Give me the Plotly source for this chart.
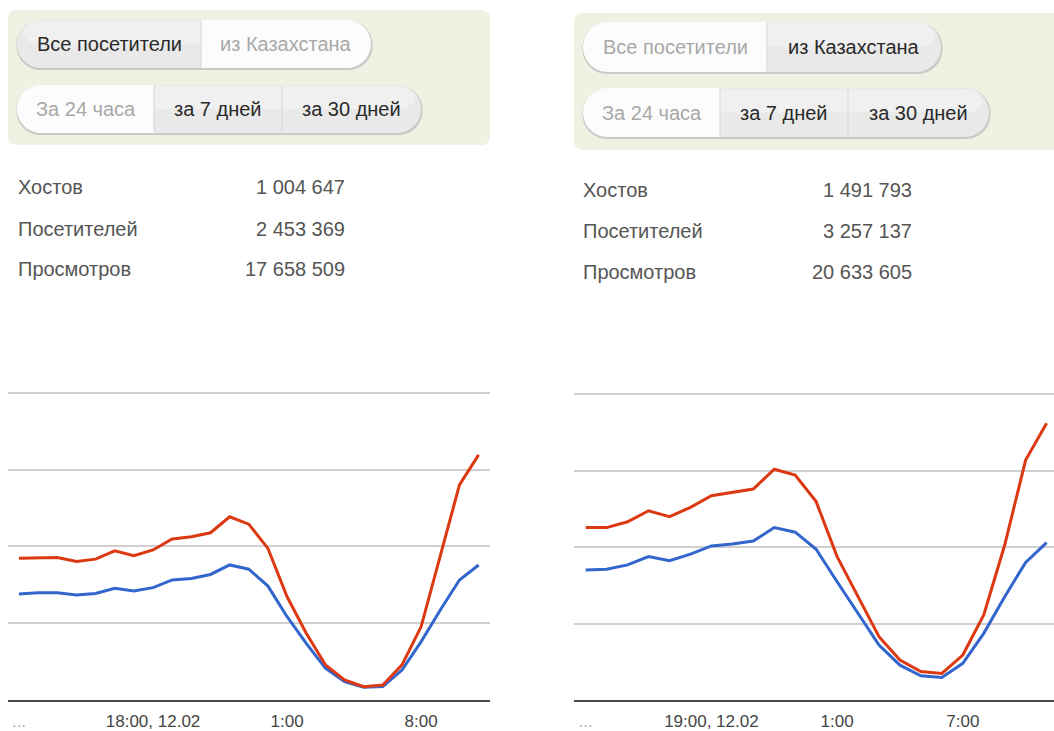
import plotly.graph_objects as go

W, H = 1054, 731

# ---------------- data ----------------
# left widget (hourly, 11:00 12.02 -> 11:00 13.02)
left_red = [46.1, 46.3, 46.3, 45.0, 45.8, 48.5, 46.9, 48.8, 52.4, 53.1, 54.4, 59.6, 57.2,
            49.3, 33.5, 21.6, 11.3, 6.4, 4.2, 4.7, 11.3, 23.8, 47.1, 70.0, 79.8]
left_blue = [34.4, 34.8, 34.8, 34.1, 34.6, 36.3, 35.4, 36.5, 39.0, 39.5, 40.8, 43.9, 42.5,
             37.0, 27.0, 18.3, 10.2, 5.8, 4.0, 4.2, 9.6, 18.9, 29.2, 39.0, 43.9]
left_tick_pos = [0, 7, 14, 21]
left_tick_text = ["…", "18:00, 12.02", "1:00", "8:00"]

# right widget (hourly, 13:00 12.02 -> 11:00 13.02)
right_red = [56.4, 56.4, 58.3, 61.9, 60.0, 63.0, 66.8, 67.9, 69.0, 75.5, 73.6, 64.9,
             46.9, 33.8, 20.7, 13.1, 9.3, 8.7, 14.7, 27.8, 50.7, 78.5, 90.5]
right_blue = [42.5, 42.8, 44.2, 46.9, 45.6, 47.7, 50.4, 51.0, 52.0, 56.4, 54.9, 49.3,
              38.7, 28.4, 18.0, 11.4, 7.9, 7.4, 12.0, 21.8, 33.8, 45.0, 51.5]
right_tick_pos = [0, 6, 12, 18]
right_tick_text = ["…", "19:00, 12.02", "1:00", "7:00"]

grid_vals = [0, 25, 50, 75, 100]

stat_labels = ["Хостов", "Посетителей", "Просмотров"]
left_stats = ["1 004 647", "2 453 369", "17 658 509"]
right_stats = ["1 491 793", "3 257 137", "20 633 605"]

group1_labels = ["Все посетители", "из Казахстана"]
group2_labels = ["За 24 часа", "за 7 дней", "за 30 дней"]
left_active1 = [True, False]    # dark text segments
right_active1 = [False, True]
active2 = [False, True, True]

RED = "#dc3912"
BLUE = "#3366cc"
FONT = "Liberation Sans, Arial, sans-serif"


def X(px):
    return px / W


def Y(py):
    return 1 - py / H


def rrect_path(x0, y0, x1, y1, rl, rr):
    k = 0.5523
    p = []
    p.append(f"M {X(x0 + rl)},{Y(y0)}")
    p.append(f"L {X(x1 - rr)},{Y(y0)}")
    if rr > 0:
        p.append(f"C {X(x1 - rr + k * rr)},{Y(y0)} {X(x1)},{Y(y0 + rr - k * rr)} {X(x1)},{Y(y0 + rr)}")
    p.append(f"L {X(x1)},{Y(y1 - rr)}")
    if rr > 0:
        p.append(f"C {X(x1)},{Y(y1 - rr + k * rr)} {X(x1 - rr + k * rr)},{Y(y1)} {X(x1 - rr)},{Y(y1)}")
    p.append(f"L {X(x0 + rl)},{Y(y1)}")
    if rl > 0:
        p.append(f"C {X(x0 + rl - k * rl)},{Y(y1)} {X(x0)},{Y(y1 - rl + k * rl)} {X(x0)},{Y(y1 - rl)}")
    p.append(f"L {X(x0)},{Y(y0 + rl)}")
    if rl > 0:
        p.append(f"C {X(x0)},{Y(y0 + rl - k * rl)} {X(x0 + rl - k * rl)},{Y(y0)} {X(x0 + rl)},{Y(y0)}")
    p.append("Z")
    return " ".join(p)


shapes = []
annotations = []


def panel(x0, y0, x1, y1):
    shapes.append(dict(type="path", xref="paper", yref="paper",
                       path=rrect_path(x0, y0, x1, y1, 8, 8 if x1 < W else 0),
                       fillcolor="#f1f1e3", line=dict(width=0), layer="below"))


def button_group(bounds, y0, y1, labels, dark):
    r = (y1 - y0) / 2
    x0, x1 = bounds[0], bounds[-1]
    # shadow
    shapes.append(dict(type="path", xref="paper", yref="paper",
                       path=rrect_path(x0 - 0.5, y0 + 0.5, x1 + 1.5, y1 + 2, r, r),
                       fillcolor="#c2c2c2", line=dict(width=0), layer="below", opacity=0.85))
    n = len(labels)
    for i in range(n):
        sx0, sx1 = bounds[i], bounds[i + 1]
        rl = r if i == 0 else 0
        rr = r if i == n - 1 else 0
        fill = "#e9e9e9" if dark[i] else "#fcfcfc"
        shapes.append(dict(type="path", xref="paper", yref="paper",
                           path=rrect_path(sx0, y0, sx1, y1, rl, rr),
                           fillcolor=fill, line=dict(width=0), layer="below"))
        if dark[i]:
            shapes.append(dict(type="path", xref="paper", yref="paper",
                               path=rrect_path(sx0 + (r * 0.25 if rl else 0), y0 + 1,
                                               sx1 - (r * 0.25 if rr else 0), (y0 + y1) / 2,
                                               rl * 0.6, rr * 0.6),
                               fillcolor="#f2f2f2", line=dict(width=0), layer="below", opacity=0.7))
        if i > 0:
            shapes.append(dict(type="line", xref="paper", yref="paper",
                               x0=X(sx0), x1=X(sx0), y0=Y(y0 + 1), y1=Y(y1 - 1),
                               line=dict(color="#d6d6d6", width=1), layer="below"))
        annotations.append(dict(xref="paper", yref="paper", x=X((sx0 + sx1) / 2), y=Y((y0 + y1) / 2),
                                text=labels[i], showarrow=False, xanchor="center", yanchor="middle",
                                font=dict(family=FONT, size=20, color="#2a2a2a" if dark[i] else "#a8a8a8")))


# left widget controls
panel(8, 10, 490, 145)
button_group([17, 201, 371], 20, 68, group1_labels, left_active1)
button_group([17, 154, 282, 421], 85, 133, group2_labels, active2)
# right widget controls
panel(574, 13, W, 150)
button_group([583, 767, 941], 22, 72, group1_labels, right_active1)
button_group([583, 720, 848, 989], 88, 137, group2_labels, active2)

# stats
for i, lab in enumerate(stat_labels):
    for (lx, rx, ys, vals) in [(16, 347, [187, 229, 269], left_stats),
                               (581, 914, [190, 231, 272], right_stats)]:
        annotations.append(dict(xref="paper", yref="paper", x=X(lx), y=Y(ys[i]), text=lab,
                                showarrow=False, xanchor="left", yanchor="middle",
                                font=dict(family=FONT, size=20, color="#555555")))
        annotations.append(dict(xref="paper", yref="paper", x=X(rx), y=Y(ys[i]), text=vals[i],
                                showarrow=False, xanchor="right", yanchor="middle",
                                font=dict(family=FONT, size=20, color="#555555")))

fig = go.Figure()
xl = list(range(len(left_red)))
xr = list(range(len(right_red)))
fig.add_trace(go.Scatter(x=xl, y=left_blue, mode="lines", line=dict(color=BLUE, width=3),
                         xaxis="x", yaxis="y", hoverinfo="skip"))
fig.add_trace(go.Scatter(x=xl, y=left_red, mode="lines", line=dict(color=RED, width=3),
                         xaxis="x", yaxis="y", hoverinfo="skip"))
fig.add_trace(go.Scatter(x=xr, y=right_blue, mode="lines", line=dict(color=BLUE, width=3),
                         xaxis="x2", yaxis="y2", hoverinfo="skip"))
fig.add_trace(go.Scatter(x=xr, y=right_red, mode="lines", line=dict(color=RED, width=3),
                         xaxis="x2", yaxis="y2", hoverinfo="skip"))


def fmt_ticks(texts):
    out = []
    for t in texts:
        if t == "…":
            out.append("<span style='color:#b0a8b8'>...</span>")
        else:
            out.append(t)
    return out


axis_x_common = dict(showgrid=False, zeroline=False, showline=True, linecolor="#4a4a4a", linewidth=2,
                     ticks="", ticklabelstandoff=5,
                     tickfont=dict(family=FONT, size=17, color="#444444"), fixedrange=True)
TOP = 100.6
axis_y_common = dict(showgrid=True, gridcolor="#cfcfcf", gridwidth=2, zeroline=False, showline=False,
                     showticklabels=False, ticks="", range=[0, TOP], tickvals=grid_vals, fixedrange=True)

# pixel geometry of the plot areas
l_base, l_top = 699.5, 393.0
r_base, r_top = 700.0, 394.3
l_dom_top = l_base - (l_base - l_top) * TOP / 100
r_dom_top = r_base - (r_base - r_top) * TOP / 100

lsp = 19.15
rsp = 20.95
fig.update_layout(
    width=W, height=H, margin=dict(l=0, r=0, t=0, b=0),
    paper_bgcolor="white", plot_bgcolor="white", showlegend=False,
    xaxis=dict(domain=[X(8), X(490)], range=[(8 - 19) / lsp, (490 - 19) / lsp],
               tickvals=left_tick_pos, ticktext=fmt_ticks(left_tick_text), anchor="y", **axis_x_common),
    yaxis=dict(domain=[Y(l_base), Y(l_dom_top)], anchor="x", **axis_y_common),
    xaxis2=dict(domain=[X(574), 1.0], range=[(574 - 585.7) / rsp, (W - 585.7) / rsp],
                tickvals=right_tick_pos, ticktext=fmt_ticks(right_tick_text), anchor="y2", **axis_x_common),
    yaxis2=dict(domain=[Y(r_base), Y(r_dom_top)], anchor="x2", **axis_y_common),
    shapes=shapes, annotations=annotations,
)

fig.write_html("out.html", config={"displayModeBar": False},
               post_script="document.body.style.margin='0';document.body.style.overflow='hidden';")
